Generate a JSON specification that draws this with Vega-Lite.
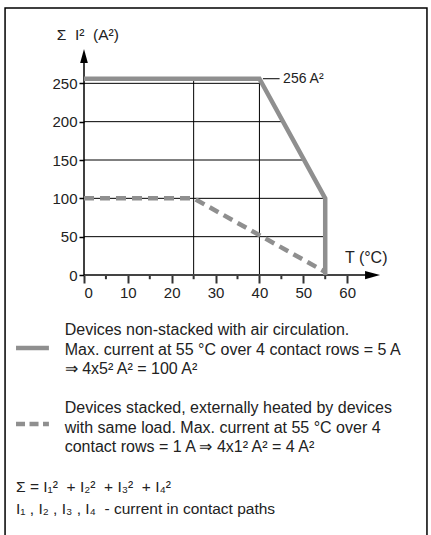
{
  "$schema": "https://vega.github.io/schema/vega-lite/v6.json",
  "autosize": "none",
  "width": 307,
  "height": 230,
  "padding": {"left": 84, "top": 45, "right": 40, "bottom": 260},
  "background": "white",
  "view": {"stroke": null},
  "config": {
    "font": "Liberation Sans",
    "text": {"font": "Liberation Sans", "fontSize": 16, "color": "#222"},
    "axis": {"labelFont": "Liberation Sans", "labelFontSize": 15, "labelColor": "#222", "grid": false, "domain": false, "title": null}
  },
  "datasets": {
    "solid": [
      {"T": 0, "I": 256, "seq": 1},
      {"T": 40, "I": 256, "seq": 2},
      {"T": 55, "I": 100, "seq": 3},
      {"T": 55, "I": 0, "seq": 4}
    ],
    "dashed": [
      {"T": 0, "I": 100, "seq": 1},
      {"T": 25, "I": 100, "seq": 2},
      {"T": 55, "I": 4, "seq": 3}
    ],
    "hgrid": [
      {"I": 50, "T1": 0, "T2": 55},
      {"I": 100, "T1": 0, "T2": 55},
      {"I": 150, "T1": 0, "T2": 50.2},
      {"I": 200, "T1": 0, "T2": 45.4},
      {"I": 250, "T1": 0, "T2": 40.6}
    ],
    "vgrid": [
      {"T": 25, "I1": 0, "I2": 256},
      {"T": 40, "I1": 0, "I2": 256}
    ],
    "minor": [
      {"T": 5}, {"T": 15}, {"T": 25}, {"T": 35}, {"T": 45}, {"T": 55}
    ]
  },
  "layer": [
    {
      "data": {"values": [{"f": 1}]},
      "mark": {"type": "rect", "fill": null, "stroke": "#000", "strokeWidth": 1.5},
      "encoding": {
        "x": {"datum": -18.0, "type": "quantitative", "scale": {"domain": [0, 70], "nice": false, "zero": false},
              "axis": {"values": [0, 10, 20, 30, 40, 50, 60], "tickSize": 8, "tickWidth": 2, "tickColor": "#333", "labelPadding": 2}},
        "x2": {"datum": 78.2},
        "y": {"datum": 348.3, "type": "quantitative", "scale": {"domain": [0, 300], "nice": false, "zero": false},
              "axis": {"values": [0, 50, 100, 150, 200, 250], "tickSize": 5, "tickWidth": 1.5, "tickColor": "#000", "labelPadding": 2}},
        "y2": {"datum": -400}
      }
    },
    {
      "data": {"name": "hgrid"},
      "mark": {"type": "rule", "color": "#000", "strokeWidth": 1},
      "encoding": {
        "x": {"field": "T1", "type": "quantitative"},
        "x2": {"field": "T2"},
        "y": {"field": "I", "type": "quantitative"}
      }
    },
    {
      "data": {"name": "vgrid"},
      "mark": {"type": "rule", "color": "#000", "strokeWidth": 1},
      "encoding": {
        "x": {"field": "T", "type": "quantitative"},
        "y": {"field": "I1", "type": "quantitative"},
        "y2": {"field": "I2"}
      }
    },
    {
      "data": {"name": "minor"},
      "mark": {"type": "rule", "color": "#333", "strokeWidth": 2},
      "encoding": {
        "x": {"field": "T", "type": "quantitative"},
        "y": {"datum": 0, "type": "quantitative"},
        "y2": {"datum": -5.5}
      }
    },
    {
      "data": {"values": [{"f": 1}]},
      "mark": {"type": "rule", "color": "#444", "strokeWidth": 2},
      "encoding": {
        "x": {"datum": 0, "type": "quantitative"},
        "x2": {"datum": 64.5},
        "y": {"datum": 0, "type": "quantitative"}
      }
    },
    {
      "data": {"values": [{"f": 1}]},
      "mark": {"type": "rule", "color": "#000", "strokeWidth": 1.5},
      "encoding": {
        "x": {"datum": 0, "type": "quantitative"},
        "y": {"datum": 0, "type": "quantitative"},
        "y2": {"datum": 278}
      }
    },
    {
      "data": {"values": [{"f": 1}]},
      "mark": {"type": "point", "shape": "M-1,-0.55L1,0L-1,0.55Z", "filled": true, "color": "#000", "size": 225, "opacity": 1},
      "encoding": {
        "x": {"datum": 65.8, "type": "quantitative"},
        "y": {"datum": 0, "type": "quantitative"}
      }
    },
    {
      "data": {"values": [{"f": 1}]},
      "mark": {"type": "point", "shape": "M-0.55,1L0,-1L0.55,1Z", "filled": true, "color": "#000", "size": 196, "opacity": 1},
      "encoding": {
        "x": {"datum": 0, "type": "quantitative"},
        "y": {"datum": 285.6, "type": "quantitative"}
      }
    },
    {
      "data": {"name": "dashed"},
      "mark": {"type": "line", "color": "#8f8f8f", "strokeWidth": 4.5, "strokeDash": [10, 6], "strokeCap": "butt"},
      "encoding": {
        "x": {"field": "T", "type": "quantitative"},
        "y": {"field": "I", "type": "quantitative"},
        "order": {"field": "seq"}
      }
    },
    {
      "data": {"name": "solid"},
      "mark": {"type": "line", "color": "#8f8f8f", "strokeWidth": 4.5, "strokeJoin": "miter"},
      "encoding": {
        "x": {"field": "T", "type": "quantitative"},
        "y": {"field": "I", "type": "quantitative"},
        "order": {"field": "seq"}
      }
    },
    {
      "data": {"values": [{"f": 1}]},
      "mark": {"type": "rule", "color": "#000", "strokeWidth": 1},
      "encoding": {
        "x": {"datum": 40.8, "type": "quantitative"},
        "x2": {"datum": 44.6},
        "y": {"datum": 256, "type": "quantitative"}
      }
    },
    {
      "data": {"values": [{"label": "256 A²"}]},
      "mark": {"type": "text", "align": "left", "baseline": "middle", "fontSize": 14},
      "encoding": {
        "x": {"datum": 45.4, "type": "quantitative"},
        "y": {"datum": 256, "type": "quantitative"},
        "text": {"field": "label"}
      }
    },
    {
      "data": {"values": [{"label": "Σ\u00a0\u00a0I²\u00a0\u00a0(A²)"}]},
      "mark": {"type": "text", "align": "left", "baseline": "middle", "fontSize": 15.5},
      "encoding": {
        "x": {"datum": -6.2, "type": "quantitative"},
        "y": {"datum": 313, "type": "quantitative"},
        "text": {"field": "label"}
      }
    },
    {
      "data": {"values": [{"label": "T (°C)"}]},
      "mark": {"type": "text", "align": "left", "baseline": "middle", "fontSize": 16},
      "encoding": {
        "x": {"datum": 59.5, "type": "quantitative"},
        "y": {"datum": 22.2, "type": "quantitative"},
        "text": {"field": "label"}
      }
    },
    {
      "data": {"values": [{"f": 1}]},
      "mark": {"type": "rule", "color": "#8f8f8f", "strokeWidth": 4.5},
      "encoding": {
        "x": {"datum": -15.5, "type": "quantitative"},
        "x2": {"datum": -8.0},
        "y": {"datum": -95.2, "type": "quantitative"}
      }
    },
    {
      "data": {"values": [{"f": 1}]},
      "mark": {"type": "rule", "color": "#8f8f8f", "strokeWidth": 4.5, "strokeDash": [9, 4.5]},
      "encoding": {
        "x": {"datum": -15.5, "type": "quantitative"},
        "x2": {"datum": -8.0},
        "y": {"datum": -194.3, "type": "quantitative"}
      }
    },
    {
      "data": {"values": [{"f": 1}]},
      "mark": {"type": "text", "align": "left", "baseline": "alphabetic", "fontSize": 16, "lineHeight": 19.5},
      "encoding": {
        "x": {"datum": -4.4, "type": "quantitative"},
        "y": {"datum": -78.3, "type": "quantitative"},
        "text": {"value": ["Devices non-stacked with air circulation.", "Max. current at 55 °C over 4 contact rows = 5 A", "⇒ 4x5² A² = 100 A²"]}
      }
    },
    {
      "data": {"values": [{"f": 1}]},
      "mark": {"type": "text", "align": "left", "baseline": "alphabetic", "fontSize": 16, "lineHeight": 19.5},
      "encoding": {
        "x": {"datum": -4.4, "type": "quantitative"},
        "y": {"datum": -180.0, "type": "quantitative"},
        "text": {"value": ["Devices stacked, externally heated by devices", "with same load. Max. current at 55 °C over 4", "contact rows = 1 A ⇒ 4x1² A² = 4 A²"]}
      }
    },
    {
      "data": {"values": [{"f": 1}]},
      "mark": {"type": "text", "align": "left", "baseline": "alphabetic", "fontSize": 15.5, "lineHeight": 22},
      "encoding": {
        "x": {"datum": -15.5, "type": "quantitative"},
        "y": {"datum": -283, "type": "quantitative"},
        "text": {"value": ["Σ = I₁²\u00a0\u00a0+ I₂²\u00a0\u00a0+ I₃²\u00a0\u00a0+ I₄²", "I₁ , I₂ , I₃ , I₄\u00a0\u00a0- current in contact paths"]}
      }
    }
  ]
}
